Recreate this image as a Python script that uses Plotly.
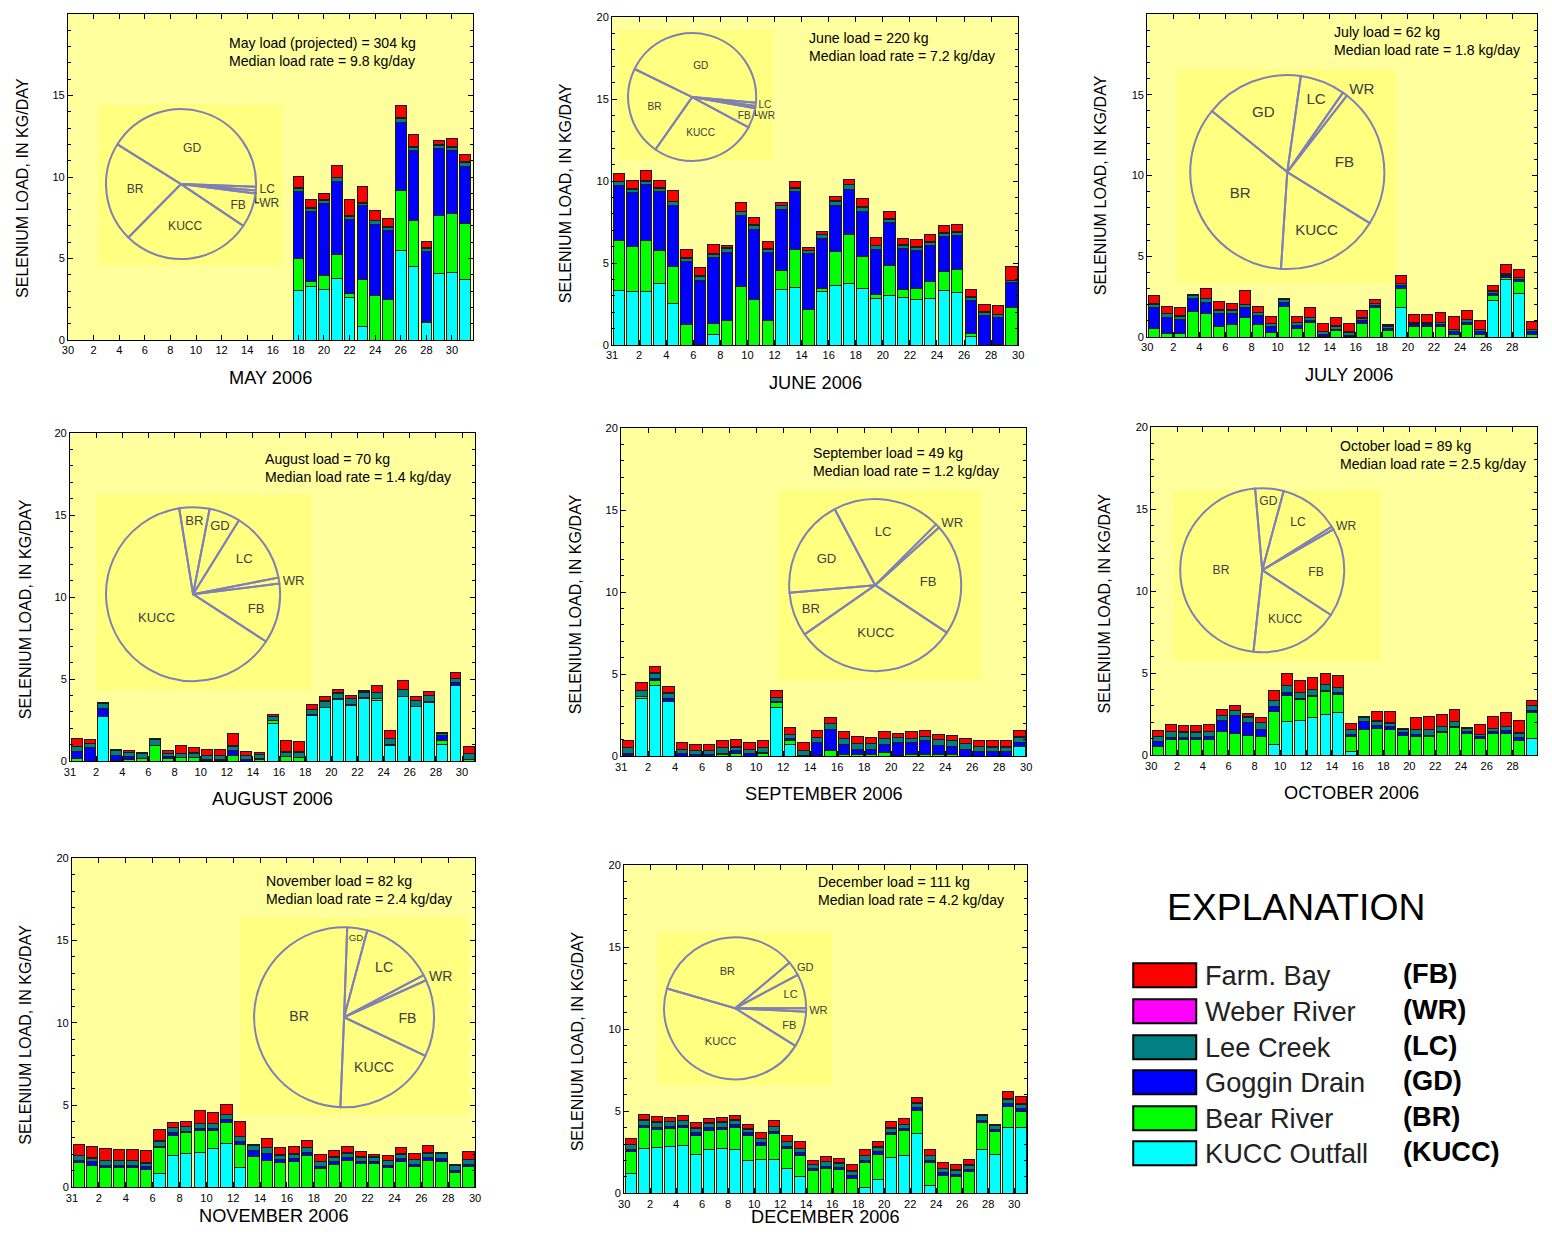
import plotly.graph_objects as go

W, H = 1552, 1241          # target picture size
FIG_W, FIG_H = 1536, 1225  # figure size in the page
# measured mapping page->picture at this figure size: picture = S * (figure_px + OFF)
SX, SY, OFF = 0.992, 0.990, 14.1
FS = 1 / 0.991             # font compensation for that scale
FONT = "Liberation Sans, Arial, Helvetica, sans-serif"

# ---------------- series definitions ----------------
STACK = ["KUCC", "BR", "GD", "LC", "WR", "FB"]          # bottom -> top
PIE_ORDER = ["GD", "LC", "WR", "FB", "KUCC", "BR"]      # clockwise
COLORS = {"FB": "#FF0000", "WR": "#FF00FF", "LC": "#008080",
          "GD": "#0000FF", "BR": "#00FF00", "KUCC": "#00FFFF"}
LEGEND_CODES = ["FB", "WR", "LC", "GD", "BR", "KUCC"]
LEGEND_NAMES = ["Farm. Bay", "Weber River", "Lee Creek", "Goggin Drain", "Bear River", "KUCC Outfall"]

# ---------------- MAY 2006 (days 18-31) ----------------
MAY_DAYS = list(range(18, 32))
MAY_KUCC = [3.05, 3.29, 3.09, 3.76, 2.64, 0.85, 0.0, 0.0, 5.49, 4.51, 1.06, 4.10, 4.15, 3.70]
MAY_BR = [1.93, 0.33, 0.87, 1.46, 0.21, 2.85, 2.74, 2.48, 3.66, 2.85, 0.10, 3.52, 3.63, 3.47]
MAY_GD = [4.12, 4.27, 4.41, 4.50, 4.53, 4.53, 4.37, 4.22, 4.22, 4.27, 4.27, 4.13, 3.85, 3.50]
MAY_LC = [0.20, 0.19, 0.22, 0.23, 0.23, 0.15, 0.20, 0.20, 0.20, 0.21, 0.21, 0.19, 0.21, 0.21]
MAY_WR = [0.05, 0.05, 0.06, 0.05, 0.05, 0.05, 0.05, 0.04, 0.06, 0.05, 0.05, 0.05, 0.05, 0.05]
MAY_FB = [0.71, 0.51, 0.36, 0.73, 0.98, 1.02, 0.57, 0.53, 0.75, 0.71, 0.35, 0.25, 0.47, 0.45]
MAY_PIE = [41.7, 0.8, 0.6, 7.4, 28.0, 21.5]

# ---------------- JUNE 2006 ----------------
JUN_DAYS = list(range(1, 31))
JUN_KUCC = [3.35, 3.25, 3.29, 3.76, 2.54, 0, 0, 0.67, 0, 0, 0, 0, 3.41, 3.50, 0, 3.29, 3.66, 3.76, 3.46, 2.85,
            3.03, 2.93, 2.80, 2.85, 3.35, 3.23, 0.55, 0, 0, 0]
JUN_BR = [3.05, 2.75, 3.07, 2.03, 2.24, 1.26, 0.04, 0.65, 1.52, 3.56, 2.78, 1.52, 1.12, 2.33, 2.20, 0.17, 2.03,
          2.99, 1.93, 0.24, 1.81, 0.46, 0.66, 1.05, 1.12, 1.38, 0.16, 0, 0.06, 2.30]
JUN_GD = [3.36, 3.31, 3.44, 3.60, 3.76, 3.82, 3.92, 4.01, 4.13, 4.33, 4.29, 4.11, 3.74, 3.56, 3.39, 3.04, 2.85,
          2.76, 2.78, 2.74, 2.62, 2.50, 2.33, 2.20, 2.13, 2.08, 2.03, 1.83, 1.61, 1.50]
JUN_LC = [0.19, 0.19, 0.17, 0.15, 0.19, 0.22, 0.22, 0.21, 0.23, 0.23, 0.24, 0.21, 0.22, 0.17, 0.15, 0.22, 0.21,
          0.26, 0.21, 0.22, 0.21, 0.20, 0.16, 0.15, 0.20, 0.17, 0.16, 0.15, 0.17, 0.11]
JUN_WR = [0.05, 0.05, 0.05, 0.05, 0.05, 0.05, 0.05, 0.05, 0.05, 0.05, 0.05, 0.05, 0.05, 0.05, 0.05, 0.05, 0.05,
          0.05, 0.05, 0.05, 0.05, 0.05, 0.05, 0.05, 0.05, 0.05, 0.05, 0.05, 0.05, 0.05]
JUN_FB = [0.47, 0.51, 0.65, 0.47, 0.67, 0.48, 0.51, 0.57, 0.15, 0.53, 0.42, 0.45, 0.16, 0.39, 0.17, 0.18, 0.29,
          0.30, 0.51, 0.44, 0.41, 0.36, 0.46, 0.47, 0.47, 0.47, 0.44, 0.47, 0.51, 0.82]
JUN_PIE = [44.2, 0.8, 0.6, 5.0, 26.9, 22.5]

# ---------------- JULY 2006 ----------------
JUL_DAYS = list(range(1, 32))
JUL_KUCC = [0, 0, 0, 0, 0, 0, 0, 0, 0, 0, 0, 0, 0, 0, 0, 0, 0, 0, 0, 1.85, 0, 0, 0, 0, 0, 0, 2.26, 3.58, 2.72, 0, 0]
JUL_BR = [0.53, 0.22, 0.22, 1.61, 1.48, 0.67, 0.77, 1.24, 0.79, 0.28, 1.89, 0.53, 0.93, 0.06, 0.43, 0.06, 0.87,
          1.81, 0.43, 1.18, 0.63, 0.63, 0.67, 0.18, 0.77, 0.18, 0.30, 0.14, 0.71, 0.18, 0.22]
JUL_GD = [1.28, 1.02, 0.86, 0.75, 0.67, 0.81, 0.71, 0.61, 0.55, 0.39, 0.26, 0.20, 0.11, 0.12, 0.06, 0.06, 0.17,
          0.14, 0.10, 0.14, 0.14, 0.14, 0.12, 0.15, 0.16, 0.15, 0.16, 0.12, 0.15, 0.15, 0.17]
JUL_LC = [0.22, 0.22, 0.22, 0.22, 0.25, 0.19, 0.19, 0.14, 0.18, 0.18, 0.19, 0.18, 0.18, 0.17, 0.18, 0.19, 0.14,
          0.14, 0.14, 0.12, 0.10, 0.10, 0.12, 0.12, 0.13, 0.12, 0.13, 0.06, 0.12, 0.12, 0.16]
JUL_WR = [0.02, 0.02, 0.02, 0.02, 0.02, 0.02, 0.02, 0.02, 0.02, 0.02, 0.02, 0.02, 0.02, 0.02, 0.02, 0.02, 0.02,
          0.02, 0.02, 0.02, 0.02, 0.02, 0.02, 0.02, 0.02, 0.02, 0.02, 0.02, 0.02, 0.02, 0.02]
JUL_FB = [0.51, 0.43, 0.49, 0.06, 0.61, 0.53, 0.42, 0.86, 0.37, 0.43, 0, 0.35, 0.57, 0.50, 0.51, 0.50, 0.45,
          0.19, 0.10, 0.51, 0.49, 0.49, 0.57, 0.83, 0.57, 0.57, 0.34, 0.57, 0.47, 0.51, 0.53]
JUL_PIE = [16.4, 7.5, 0.8, 23.3, 17.2, 34.8]

# ---------------- AUGUST 2006 ----------------
AUG_DAYS = list(range(1, 32))
AUG_KUCC = [0, 0, 2.70, 0, 0, 0, 0, 0, 0, 0, 0, 0, 0, 0, 0, 2.30, 0, 0, 2.80, 3.25, 3.76, 3.41, 3.82, 3.68, 0.98,
            3.92, 3.31, 3.58, 1.02, 4.63, 0]
AUG_BR = [0.15, 0, 0, 0.06, 0.10, 0.16, 0.98, 0.16, 0.20, 0.22, 0.06, 0.06, 0.37, 0, 0.12, 0.20, 0.26, 0.22, 0, 0,
          0, 0, 0, 0.14, 0, 0, 0, 0.04, 0.26, 0, 0.10]
AUG_GD = [0.42, 0.81, 0.51, 0.31, 0.16, 0, 0, 0.10, 0.05, 0.03, 0.04, 0.04, 0.30, 0.10, 0.03, 0, 0.02, 0.02, 0.05,
          0.05, 0.04, 0.05, 0.04, 0.02, 0.04, 0.04, 0.04, 0.04, 0.31, 0.15, 0.02]
AUG_LC = [0.32, 0.25, 0.29, 0.28, 0.25, 0.29, 0.34, 0.19, 0.20, 0.24, 0.25, 0.25, 0.24, 0.25, 0.26, 0.22, 0.27,
          0.31, 0.28, 0.36, 0.35, 0.34, 0.35, 0.33, 0.34, 0.39, 0.35, 0.34, 0.12, 0.24, 0.33]
AUG_WR = [0.02, 0.02, 0.02, 0.02, 0.02, 0.02, 0.02, 0.02, 0.02, 0.02, 0.02, 0.02, 0.02, 0.02, 0.02, 0.02, 0.02,
          0.02, 0.02, 0.02, 0.02, 0.02, 0.02, 0.02, 0.02, 0.02, 0.02, 0.02, 0.02, 0.02, 0.02]
AUG_FB = [0.47, 0.26, 0.06, 0.04, 0.14, 0.06, 0.04, 0.16, 0.51, 0.32, 0.34, 0.34, 0.76, 0.20, 0.10, 0.11, 0.71,
          0.61, 0.33, 0.28, 0.20, 0.18, 0.06, 0.40, 0.47, 0.57, 0.20, 0.21, 0, 0.37, 0.40]
AUG_PIE = [5.8, 13.1, 1.1, 11.1, 63.3, 5.6]

# ---------------- SEPTEMBER 2006 ----------------
SEP_DAYS = list(range(1, 31))
SEP_KUCC = [0, 3.52, 4.33, 3.31, 0, 0, 0, 0, 0, 0, 0, 2.97, 0.73, 0, 0, 0, 0, 0, 0, 0, 0, 0, 0, 0, 0, 0, 0, 0, 0,
            0.57]
SEP_BR = [0.06, 0.10, 0.26, 0, 0, 0, 0, 0.10, 0.16, 0, 0.16, 0.28, 0.25, 0, 0.03, 0.37, 0.12, 0.12, 0.12, 0.20,
          0.03, 0.10, 0.12, 0.10, 0.12, 0, 0, 0, 0, 0]
SEP_GD = [0.10, 0, 0.15, 0.21, 0.16, 0.10, 0.10, 0.05, 0.17, 0.16, 0.04, 0.06, 0.10, 0.05, 0.78, 1.28, 0.61, 0.31,
          0.31, 0.53, 0.78, 0.71, 0.81, 0.57, 0.49, 0.43, 0.26, 0.26, 0.26, 0.24]
SEP_LC = [0.36, 0.39, 0.33, 0.33, 0.26, 0.26, 0.26, 0.37, 0.23, 0.26, 0.32, 0.26, 0.25, 0.27, 0.32, 0.33, 0.34,
          0.33, 0.33, 0.34, 0.32, 0.26, 0.28, 0.34, 0.36, 0.33, 0.34, 0.30, 0.30, 0.36]
SEP_WR = [0.01, 0.01, 0.01, 0.01, 0.01, 0.01, 0.01, 0.01, 0.01, 0.01, 0.01, 0.01, 0.01, 0.01, 0.01, 0.01, 0.01,
          0.01, 0.01, 0.01, 0.01, 0.01, 0.01, 0.01, 0.01, 0.01, 0.01, 0.01, 0.01, 0.01]
SEP_FB = [0.40, 0.45, 0.41, 0.41, 0.40, 0.36, 0.34, 0.45, 0.45, 0.40, 0.45, 0.40, 0.41, 0.48, 0.45, 0.37, 0.40,
          0.45, 0.37, 0.40, 0.24, 0.44, 0.32, 0.30, 0.30, 0.31, 0.37, 0.41, 0.36, 0.36]
SEP_PIE = [18.6, 20.3, 0.8, 21.0, 31.0, 8.3]

# ---------------- OCTOBER 2006 ----------------
OCT_DAYS = list(range(1, 32))
OCT_KUCC = [0, 0, 0, 0, 0, 0, 0, 0, 0, 0.65, 2.03, 2.09, 2.30, 2.50, 2.58, 0.24, 0, 0, 0, 0, 0, 0, 0, 0, 0, 0, 0,
            0, 0, 1.02, 1.42]
OCT_BR = [0.55, 0.96, 0.96, 0.96, 0.98, 1.42, 1.32, 1.22, 1.16, 1.99, 1.63, 1.30, 1.26, 1.36, 1.14, 0.92, 1.57,
          1.63, 1.59, 1.22, 1.16, 1.12, 1.36, 1.67, 1.32, 1.02, 1.32, 1.32, 0.91, 1.58, 1.77]
OCT_GD = [0.26, 0.12, 0.12, 0.12, 0.18, 0.67, 1.08, 0.75, 0.43, 0.31, 0.16, 0.07, 0.10, 0.10, 0.08, 0.12, 0.46,
          0.20, 0.14, 0.14, 0.12, 0.10, 0.10, 0.10, 0.10, 0.14, 0.14, 0.16, 0.15, 0.14, 0.20]
OCT_LC = [0.33, 0.36, 0.32, 0.32, 0.28, 0.33, 0.32, 0.35, 0.38, 0.38, 0.43, 0.34, 0.34, 0.33, 0.31, 0.27, 0.25,
          0.24, 0.22, 0.21, 0.27, 0.33, 0.29, 0.28, 0.19, 0.10, 0.15, 0.27, 0.28, 0.29, 0.25]
OCT_WR = [0.02, 0.02, 0.02, 0.02, 0.02, 0.02, 0.02, 0.02, 0.02, 0.02, 0.02, 0.02, 0.02, 0.02, 0.02, 0.02, 0.02,
          0.02, 0.02, 0.02, 0.02, 0.02, 0.02, 0.02, 0.02, 0.02, 0.02, 0.02, 0.02, 0.02, 0.02]
OCT_FB = [0.32, 0.41, 0.37, 0.37, 0.43, 0.36, 0.31, 0.20, 0.31, 0.61, 0.71, 0.75, 0.70, 0.67, 0.71, 0.36, 0.04,
          0.59, 0.67, 0.04, 0.73, 0.81, 0.71, 0.73, 0.04, 0.61, 0.75, 0.83, 0.73, 0.30, 0.65]
OCT_PIE = [5.6, 11.9, 0.6, 17.5, 17.5, 46.9]

# ---------------- NOVEMBER 2006 ----------------
NOV_DAYS = list(range(1, 31))
NOV_KUCC = [0, 0, 0, 0, 0, 0, 0.83, 1.95, 2.05, 2.09, 2.36, 2.66, 1.18, 0, 0, 0, 0, 0, 0, 0, 0, 0, 0, 0, 0, 0, 0,
            0, 0, 0]
NOV_BR = [1.48, 1.34, 1.20, 1.20, 1.20, 1.10, 1.57, 1.22, 1.26, 1.34, 1.07, 1.28, 1.44, 1.85, 1.65, 1.48, 1.54,
          1.91, 1.14, 1.40, 1.65, 1.44, 1.44, 1.20, 1.59, 1.24, 1.65, 1.59, 0.89, 1.24]
NOV_GD = [0.13, 0.20, 0.14, 0.14, 0.14, 0.14, 0.10, 0.14, 0.10, 0.15, 0.15, 0.19, 0.14, 0.37, 0.40, 0.21, 0.21,
          0.20, 0.14, 0.14, 0.16, 0.15, 0.15, 0.14, 0.16, 0.14, 0.16, 0.16, 0.15, 0.16]
NOV_LC = [0.31, 0.22, 0.28, 0.28, 0.28, 0.23, 0.30, 0.30, 0.28, 0.27, 0.27, 0.27, 0.32, 0.31, 0.34, 0.27, 0.27,
          0.28, 0.28, 0.28, 0.27, 0.23, 0.23, 0.28, 0.27, 0.28, 0.27, 0.33, 0.27, 0.26]
NOV_WR = [0.03, 0.03, 0.03, 0.03, 0.03, 0.03, 0.03, 0.03, 0.03, 0.03, 0.03, 0.03, 0.03, 0.03, 0.03, 0.03, 0.03,
          0.03, 0.03, 0.03, 0.03, 0.03, 0.03, 0.03, 0.03, 0.03, 0.03, 0.03, 0.03, 0.03]
NOV_FB = [0.65, 0.71, 0.71, 0.67, 0.65, 0.74, 0.69, 0.30, 0.26, 0.77, 0.67, 0.61, 0.91, 0.06, 0.55, 0.43, 0.45,
          0.41, 0.40, 0.37, 0.39, 0.30, 0.14, 0.30, 0.37, 0.36, 0.45, 0, 0.06, 0.51]
NOV_PIE = [3.6, 13.1, 1.0, 13.8, 18.6, 49.9]

# ---------------- DECEMBER 2006 ----------------
DEC_DAYS = list(range(1, 32))
DEC_KUCC = [1.20, 2.72, 2.78, 2.85, 2.89, 2.38, 2.66, 2.72, 2.68, 2.01, 2.07, 2.07, 1.50, 1.02, 0, 0, 0, 0, 0.35,
            0.85, 2.17, 2.28, 3.64, 0.45, 0, 0, 0, 2.68, 2.38, 3.98, 3.98]
DEC_BR = [1.36, 1.26, 1.10, 1.09, 1.11, 1.16, 1.18, 1.18, 1.36, 1.53, 0.86, 1.57, 1.22, 1.30, 1.36, 1.50, 1.44,
          0.93, 1.50, 1.53, 1.41, 1.52, 1.42, 1.42, 1.10, 1.00, 1.30, 1.61, 1.36, 1.32, 1.02]
DEC_GD = [0.12, 0.17, 0.16, 0.15, 0.15, 0.16, 0.14, 0.14, 0.15, 0.14, 0.14, 0.14, 0.15, 0.14, 0.14, 0.15, 0.13,
          0.13, 0.16, 0.14, 0.12, 0.14, 0.14, 0.14, 0.14, 0.14, 0.14, 0.16, 0.14, 0.17, 0.16]
DEC_LC = [0.28, 0.31, 0.28, 0.27, 0.27, 0.25, 0.28, 0.28, 0.27, 0.23, 0.27, 0.28, 0.27, 0.27, 0.24, 0.27, 0.25,
          0.27, 0.28, 0.28, 0.27, 0.24, 0.28, 0.28, 0.27, 0.27, 0.28, 0.28, 0.28, 0.27, 0.28]
DEC_WR = [0.03, 0.03, 0.03, 0.03, 0.03, 0.03, 0.03, 0.03, 0.03, 0.03, 0.03, 0.03, 0.03, 0.03, 0.03, 0.03, 0.03,
          0.03, 0.03, 0.03, 0.03, 0.03, 0.03, 0.03, 0.03, 0.03, 0.03, 0.03, 0.03, 0.03, 0.03]
DEC_FB = [0.34, 0.33, 0.35, 0.26, 0.29, 0.31, 0.26, 0.24, 0.27, 0.27, 0.33, 0.32, 0.33, 0.41, 0.24, 0.27, 0.30,
          0.39, 0.34, 0.34, 0.35, 0.34, 0.32, 0.34, 0.33, 0.33, 0.32, 0.04, 0, 0.45, 0.44]
DEC_PIE = [3.3, 7.8, 0.8, 8.1, 45.6, 34.4]

MONTH_TITLES = ["MAY 2006", "JUNE 2006", "JULY 2006", "AUGUST 2006",
                "SEPTEMBER 2006", "OCTOBER 2006", "NOVEMBER 2006", "DECEMBER 2006"]
LOAD_TEXT = ["May load (projected) = 304 kg", "June load = 220 kg", "July load = 62 kg",
             "August load = 70 kg", "September load = 49 kg", "October load = 89 kg",
             "November load = 82 kg", "December load = 111 kg"]
MEDIAN_TEXT = ["Median load rate = 9.8 kg/day", "Median load rate = 7.2 kg/day",
               "Median load rate = 1.8 kg/day", "Median load rate = 1.4 kg/day",
               "Median load rate = 1.2 kg/day", "Median load rate = 2.5 kg/day",
               "Median load rate = 2.4 kg/day", "Median load rate = 4.2 kg/day"]
PREV_MONTH_LAST_DAY = [30, 31, 30, 31, 31, 30, 31, 30]

MONTH_DATA = [
    (MAY_DAYS, [MAY_KUCC, MAY_BR, MAY_GD, MAY_LC, MAY_WR, MAY_FB], MAY_PIE),
    (JUN_DAYS, [JUN_KUCC, JUN_BR, JUN_GD, JUN_LC, JUN_WR, JUN_FB], JUN_PIE),
    (JUL_DAYS, [JUL_KUCC, JUL_BR, JUL_GD, JUL_LC, JUL_WR, JUL_FB], JUL_PIE),
    (AUG_DAYS, [AUG_KUCC, AUG_BR, AUG_GD, AUG_LC, AUG_WR, AUG_FB], AUG_PIE),
    (SEP_DAYS, [SEP_KUCC, SEP_BR, SEP_GD, SEP_LC, SEP_WR, SEP_FB], SEP_PIE),
    (OCT_DAYS, [OCT_KUCC, OCT_BR, OCT_GD, OCT_LC, OCT_WR, OCT_FB], OCT_PIE),
    (NOV_DAYS, [NOV_KUCC, NOV_BR, NOV_GD, NOV_LC, NOV_WR, NOV_FB], NOV_PIE),
    (DEC_DAYS, [DEC_KUCC, DEC_BR, DEC_GD, DEC_LC, DEC_WR, DEC_FB], DEC_PIE),
]

# ---------------- layout / style (pixel geometry of the picture) ----------------
STYLE = [
    dict(box=(68, 12, 473, 340), xend=31.65, centred=True, inset=(98, 103, 282, 265), pie=(181, 184, 75),
         rot=302, outside=("LC", "WR"), pfs=12, text=(227, 52), ytx=22, xty=378),
    dict(box=(612, 17, 1018, 345), xend=30, centred=False, inset=(618, 30, 772, 160), pie=(692, 97, 64),
         rot=296, outside=("LC", "WR"), pfs=10, text=(807, 47), ytx=565, xty=383),
    dict(box=(1147, 9, 1551, 337), xend=31, centred=False, inset=(1177, 65, 1395, 282), pie=(1287, 172, 97),
         rot=309, outside=("WR",), pfs=15, text=(1332, 41), ytx=1100, xty=375),
    dict(box=(70, 433, 475, 761), xend=31, centred=False, inset=(96, 494, 311, 690), pie=(193, 594, 87),
         rot=11, outside=("WR",), pfs=13, text=(263, 468), ytx=25, xty=799),
    dict(box=(621, 428, 1026, 756), xend=30, centred=False, inset=(778, 490, 981, 680), pie=(875, 585, 86),
         rot=265, outside=("WR",), pfs=13, text=(811, 462), ytx=575, xty=794),
    dict(box=(1151, 427, 1551, 755), xend=31, centred=False, inset=(1173, 490, 1380, 660), pie=(1262, 570, 82),
         rot=355, outside=("WR",), pfs=12, text=(1338, 455), ytx=1104, xty=793),
    dict(box=(72, 858, 475, 1187), xend=30, centred=False, inset=(240, 918, 468, 1115), pie=(344, 1017, 90),
         rot=2, outside=("WR",), pfs=14, text=(264, 890), ytx=25, xty=1216),
    dict(box=(624, 865, 1027, 1193), xend=31, centred=False, inset=(657, 932, 832, 1085), pie=(735, 1008, 71),
         rot=50, outside=("GD", "WR"), pfs=11, text=(816, 891), ytx=577, xty=1217),
]

PLOT_BG = "#FFFF9E"
INSET_BG = "#FFFF80"
BAR_W = 0.84
MAX_RIGHT = SX * (FIG_W + OFF) - 1   # rightmost picture pixel the figure can reach


def px_x(px):
    return min(1.0, max(0.0, (px / SX - OFF) / FIG_W))


def px_y(py):
    return min(1.0, max(0.0, 1 - (py / SY - OFF) / FIG_H))


def fsz(size):
    return round(size * FS, 1)


fig = go.Figure()
layout = dict(shapes=[], annotations=[])

for i, ((days, series, pie), st) in enumerate(zip(MONTH_DATA, STYLE), start=1):
    xid = "x" if i == 1 else f"x{i}"
    yid = "y" if i == 1 else f"y{i}"
    l, t, r, b = st["box"]
    xend = st["xend"]
    if r > MAX_RIGHT:            # panel runs off the page edge: keep the same day scale
        xend = xend * (MAX_RIGHT - l) / (r - l)
        r = MAX_RIGHT
    offset = -BAR_W / 2 if st["centred"] else -(1 - (1 - BAR_W) / 2)
    for name, vals in zip(STACK, series):
        fig.add_trace(go.Bar(
            x=days, y=vals, xaxis=xid, yaxis=yid, name=name, showlegend=False,
            width=BAR_W, offset=offset,
            marker=dict(color=COLORS[name], line=dict(color="#1a1a1a", width=1)),
        ))

    tickvals = list(range(0, 31, 2))
    ticktext = [str(PREV_MONTH_LAST_DAY[i - 1])] + [str(v) for v in tickvals[1:]]
    axfont = dict(family=FONT, size=fsz(11), color="black")
    layout["xaxis" if i == 1 else f"xaxis{i}"] = dict(
        domain=[px_x(l), px_x(r)], anchor=yid, range=[0, xend],
        tickmode="array", tickvals=tickvals, ticktext=ticktext,
        ticks="inside", ticklen=5, tickcolor="black", tickfont=axfont,
        showline=True, linecolor="black", linewidth=1, mirror="ticks",
        showgrid=False, zeroline=False, fixedrange=True,
    )
    layout["yaxis" if i == 1 else f"yaxis{i}"] = dict(
        domain=[px_y(b), px_y(t)], anchor=xid, range=[0, 20],
        tickmode="linear", tick0=0, dtick=5,
        ticks="inside", ticklen=5, tickcolor="black", tickfont=axfont,
        minor=dict(tickmode="linear", tick0=0, dtick=1, ticks="inside", ticklen=3, tickcolor="black"),
        showline=True, linecolor="black", linewidth=1, mirror="ticks",
        showgrid=False, zeroline=False, fixedrange=True,
    )

    # pie inset background
    il, it, ir, ib = st["inset"]
    layout["shapes"].append(dict(
        type="rect", xref=f"{xid} domain", yref=f"{yid} domain", layer="below",
        x0=(il - l) / (r - l), x1=(ir - l) / (r - l),
        y0=(b - ib) / (b - t), y1=(b - it) / (b - t),
        fillcolor=INSET_BG, line=dict(width=0),
    ))

    # pie chart
    cx, cy, rad = st["pie"]
    fig.add_trace(go.Pie(
        values=pie, labels=PIE_ORDER, sort=False, direction="clockwise", rotation=st["rot"],
        domain=dict(x=[px_x(cx - rad), px_x(cx + rad)], y=[px_y(cy + rad), px_y(cy - rad)]),
        marker=dict(colors=["rgba(0,0,0,0)"] * len(PIE_ORDER), line=dict(color="#8080B4", width=2)),
        textinfo="label", insidetextorientation="horizontal",
        textposition=["outside" if s in st["outside"] else "inside" for s in PIE_ORDER],
        textfont=dict(family=FONT, size=fsz(st["pfs"]), color="#404040"),
        showlegend=False, hoverinfo="label+percent",
    ))

    # load texts
    tx, ty = st["text"]
    layout["annotations"].append(dict(
        xref="paper", yref="paper", x=px_x(tx), y=px_y(ty), xanchor="left", yanchor="middle",
        text=LOAD_TEXT[i - 1] + "<br>" + MEDIAN_TEXT[i - 1], align="left", showarrow=False,
        font=dict(family=FONT, size=fsz(14), color="black"),
    ))
    # x title
    layout["annotations"].append(dict(
        xref="paper", yref="paper", x=px_x((l + st["box"][2]) / 2), y=px_y(st["xty"]), xanchor="center",
        yanchor="middle", text=MONTH_TITLES[i - 1], showarrow=False,
        font=dict(family=FONT, size=fsz(18), color="black"),
    ))
    # y title
    layout["annotations"].append(dict(
        xref="paper", yref="paper", x=px_x(st["ytx"]), y=px_y((t + b) / 2 + 12), xanchor="center",
        yanchor="middle", text="SELENIUM LOAD, IN KG/DAY", textangle=-90, showarrow=False,
        font=dict(family=FONT, size=fsz(16), color="black"),
    ))

# ---------------- explanation (legend) ----------------
layout["annotations"].append(dict(
    xref="paper", yref="paper", x=px_x(1296), y=px_y(907), xanchor="center", yanchor="middle",
    text="EXPLANATION", showarrow=False, font=dict(family=FONT, size=fsz(37), color="black"),
))
ROW_Y = [975, 1011, 1047, 1082, 1118, 1153]
for code, label, ry in zip(LEGEND_CODES, LEGEND_NAMES, ROW_Y):
    layout["shapes"].append(dict(
        type="rect", xref="paper", yref="paper",
        x0=px_x(1133), x1=px_x(1196), y0=px_y(ry + 12), y1=px_y(ry - 12),
        fillcolor=COLORS[code], line=dict(color="black", width=2),
    ))
    layout["annotations"].append(dict(
        xref="paper", yref="paper", x=px_x(1203), y=px_y(ry), xanchor="left", yanchor="middle",
        text=label, showarrow=False, font=dict(family=FONT, size=fsz(27), color="#222"),
    ))
    layout["annotations"].append(dict(
        xref="paper", yref="paper", x=px_x(1401), y=px_y(ry - 2), xanchor="left", yanchor="middle",
        text="<b>(" + code + ")</b>", showarrow=False, font=dict(family=FONT, size=fsz(27), color="black"),
    ))

fig.update_layout(
    width=FIG_W, height=FIG_H, autosize=False, margin=dict(l=0, r=0, t=0, b=0, pad=0),
    paper_bgcolor="white", plot_bgcolor=PLOT_BG, barmode="stack", showlegend=False,
    **layout,
)

fig.write_html("out.html", config={"displayModeBar": False, "responsive": False})
